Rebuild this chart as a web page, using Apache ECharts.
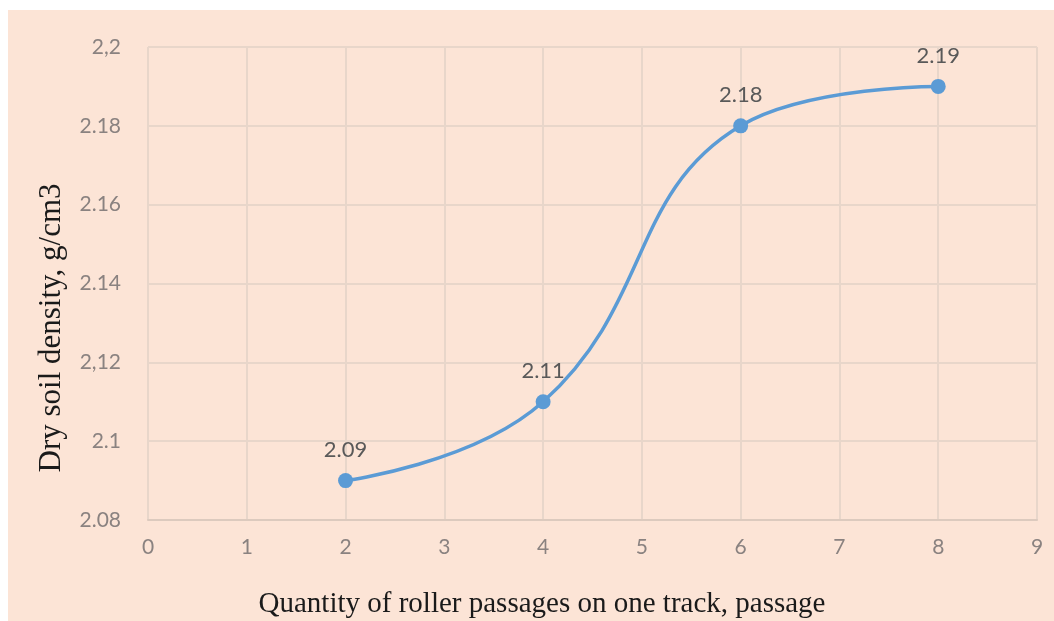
<!DOCTYPE html>
<html>
<head>
<meta charset="utf-8">
<script src="https://cdn.jsdelivr.net/npm/echarts@6/dist/echarts.min.js"></script>
<style>
  html, body { margin: 0; padding: 0; background: #ffffff; }
  #chart { position: absolute; left: 8px; top: 10px; width: 1046px; height: 611px; }
</style>
</head>
<body>
<div id="chart"></div>
<script>
// Roller passes on one track vs. dry soil density
const passes = [2, 4, 6, 8];
const density = [2.09, 2.11, 2.18, 2.19];
const yTickValues = [2.08, 2.1, 2.12, 2.14, 2.16, 2.18, 2.2];
const yTickLabels = ['2.08', '2.1', '2,12', '2.14', '2.16', '2.18', '2,2'];
const xTickLabels = ['0', '1', '2', '3', '4', '5', '6', '7', '8', '9'];
const xTitle = 'Quantity of roller passages on one track, passage';
const yTitle = 'Dry soil density, g/cm3';

const gridColor = '#e8d6ca';
const tickFont = 'Lato, "Open Sans", sans-serif';
const titleFont = '"Liberation Serif", "Times New Roman", serif';

const chart = echarts.init(document.getElementById('chart'), null, { renderer: 'canvas' });

function yLabel(v) {
  for (let i = 0; i < yTickValues.length; i++) {
    if (Math.abs(yTickValues[i] - v) < 1e-6) return yTickLabels[i];
  }
  return '';
}

chart.setOption({
  backgroundColor: '#fce4d6',
  animation: false,
  grid: { left: 140, top: 37, right: 17, bottom: 101, containLabel: false },
  // axis titles sit off-centre relative to the plot, so they are placed directly
  graphic: [
    {
      type: 'text',
      x: 534, y: 594,
      style: {
        text: xTitle, x: 0, y: 0,
        font: '29px ' + titleFont, fill: '#1a1a1a',
        textAlign: 'center', textVerticalAlign: 'middle'
      }
    },
    {
      type: 'text',
      x: 44, y: 318,
      rotation: Math.PI / 2,
      style: {
        text: yTitle, x: 0, y: 0,
        font: '31px ' + titleFont, fill: '#1a1a1a',
        textAlign: 'center', textVerticalAlign: 'middle'
      }
    }
  ],
  xAxis: {
    type: 'value',
    min: 0, max: 9, interval: 1,
    axisLine: { show: true, lineStyle: { color: '#dccabe', width: 2 } },
    axisTick: { show: false },
    axisLabel: {
      margin: 17,
      fontFamily: tickFont, fontSize: 21, color: '#8a8280',
      formatter: v => xTickLabels[Math.round(v)] ?? ''
    },
    splitLine: { show: true, lineStyle: { color: gridColor, width: 2 } }
  },
  yAxis: {
    type: 'value',
    min: 2.08, max: 2.2, interval: 0.02,
    axisLine: { show: false },
    axisTick: { show: false },
    axisLabel: {
      margin: 27,
      fontFamily: tickFont, fontSize: 21, color: '#8a8280',
      formatter: v => yLabel(v)
    },
    splitLine: { show: true, lineStyle: { color: gridColor, width: 2 } }
  },
  series: [{
    type: 'line',
    data: passes.map((x, i) => [x, density[i]]),
    smooth: 0.45,
    symbol: 'circle',
    symbolSize: 15,
    itemStyle: { color: '#5b9bd5' },
    lineStyle: { color: '#5b9bd5', width: 3.5 },
    label: {
      show: true,
      position: 'top',
      distance: 12,
      fontFamily: tickFont, fontSize: 22, color: '#595959',
      formatter: p => String(p.value[1])
    }
  }]
});
</script>
</body>
</html>
